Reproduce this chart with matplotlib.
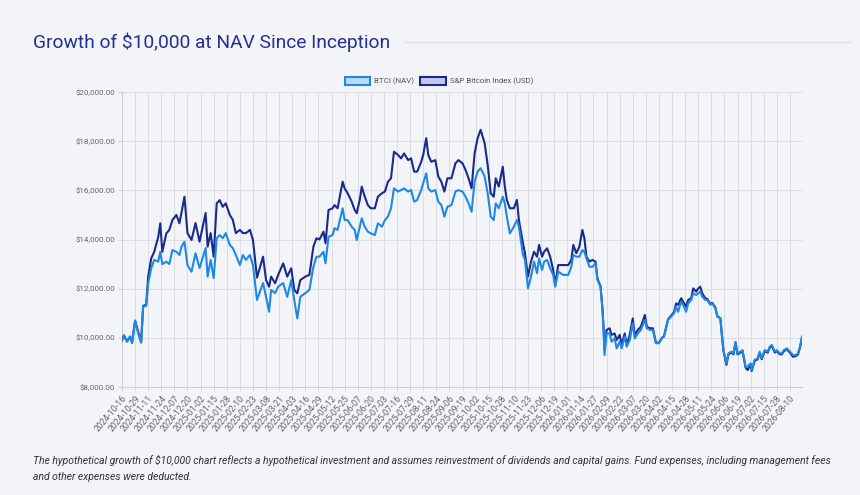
import matplotlib
matplotlib.use("Agg")
import matplotlib.pyplot as plt
from matplotlib.patches import Patch
import pandas as pd

plt.rcParams['font.family'] = ['Roboto', 'DejaVu Sans']

start_date = "2024-10-16"
tick_step = 13

# days since inception, BTCI NAV, S&P Bitcoin Index
days = [0, 2, 5, 8, 10, 13, 16, 19, 21, 24, 26, 29, 32, 36, 38, 40, 44, 47, 50, 54,
        57, 59, 62, 65, 69, 73, 77, 83, 85, 88, 91, 94, 97, 100, 103, 107, 110, 113, 117, 120,
        123, 127, 130, 134, 140, 143, 146, 148, 152, 155, 160, 164, 168, 171, 174, 177, 182, 186, 190, 193,
        196, 200, 202, 205, 209, 211, 214, 219, 221, 224, 228, 231, 233, 236, 238, 241, 244, 247, 251, 254,
        258, 261, 264, 267, 270, 274, 277, 280, 284, 287, 290, 293, 297, 299, 302, 304, 307, 311, 314, 317,
        320, 323, 327, 331, 334, 338, 341, 344, 347, 350, 353, 356, 360, 363, 366, 369, 371, 374, 378, 380,
        382, 385, 389, 392, 394, 398, 400, 403, 406, 409, 412, 414, 417, 419, 422, 425, 428, 430, 433, 438,
        443, 446, 448, 451, 454, 457, 459, 461, 464, 467, 470, 472, 475, 477, 478, 479, 481, 484, 486, 489,
        491, 494, 496, 499, 501, 504, 507, 509, 512, 515, 519, 521, 524, 527, 530, 533, 536, 538, 542, 545,
        548, 550, 552, 555, 557, 560, 562, 565, 567, 570, 572, 574, 576, 579, 581, 584, 586, 589, 591, 594,
        595, 597, 600, 602, 605, 607, 609, 611, 614, 616, 619, 621, 624, 625, 628, 631, 633, 635, 638, 641,
        643, 645, 648, 650, 653, 655, 657, 660, 663, 666, 669, 671, 673, 675]

btci_nav = [9900, 10100, 9850, 10050, 9800, 10700, 10200, 9800, 11270, 11300, 12220, 12830, 13170, 13100, 13500, 13000, 13100, 13000, 13570, 13500,
            13370, 13700, 13910, 12960, 12690, 13440, 12840, 13650, 12490, 13170, 12430, 14050, 14180, 14050, 14260, 13780, 13650, 13370, 12960, 13370,
            13170, 13370, 12960, 11540, 12230, 11670, 11060, 11950, 11820, 12080, 12230, 11670, 12350, 11540, 10790, 11670, 11820, 11950, 12890, 13300,
            13300, 13500, 13030, 14110, 14180, 14460, 14390, 15270, 14790, 14790, 14520, 14390, 13980, 14520, 14860, 14520, 14320, 14250, 14180, 14660,
            14520, 14790, 14930, 15270, 16080, 15950, 16010, 16080, 15950, 16010, 15540, 15610, 16010, 16290, 16690, 16080, 15950, 16010, 15540, 15400,
            14930, 15330, 15400, 15950, 16010, 15950, 15740, 15470, 15130, 16350, 16760, 16900, 16560, 15880, 14930, 14790, 15470, 15270, 15740, 15470,
            14930, 14250, 14520, 14790, 14520, 13370, 13170, 12010, 12490, 13100, 12630, 13230, 12760, 13100, 13170, 12830, 12560, 12080, 12690, 12560,
            12560, 12890, 13370, 13300, 13300, 13570, 13500, 13230, 12890, 12890, 13030, 12350, 12080, 11130, 10320, 9300, 10180, 10180, 9840, 9980,
            9570, 9840, 9570, 10050, 9640, 9910, 10590, 9980, 10180, 10320, 10730, 10390, 10320, 10320, 9780, 9780, 9980, 10050, 10730, 10860,
            11000, 11270, 11060, 11470, 11340, 11060, 11400, 11540, 11810, 11740, 11810, 11880, 11670, 11540, 11540, 11340, 11400, 11200, 10860, 10800,
            10320, 9500, 8960, 9370, 9440, 9370, 9840, 9370, 9440, 9500, 8830, 8830, 8960, 8690, 9100, 9170, 9440, 9170, 9500, 9440,
            9640, 9710, 9440, 9500, 9370, 9370, 9500, 9570, 9440, 9300, 9300, 9370, 9640, 10050]

sp_index = [9900, 10100, 9850, 10050, 9800, 10700, 10250, 9850, 11300, 11350, 12490, 13230, 13500, 14110, 14660, 13500, 14250, 14390, 14790, 15000,
            14660, 15080, 15740, 14260, 13980, 14670, 13910, 15080, 13710, 14260, 13300, 15470, 15600, 15330, 15470, 15000, 14800, 14260, 14390, 14260,
            14260, 14390, 13980, 12450, 13300, 12350, 12080, 12490, 12220, 12560, 13030, 12490, 12830, 11950, 11810, 12350, 12490, 12560, 13710, 14050,
            14000, 14320, 13850, 15200, 15270, 15400, 15270, 16350, 16080, 15880, 15540, 15200, 15070, 15610, 16150, 15740, 15400, 15270, 15270, 15740,
            15880, 15950, 16350, 16490, 17570, 17440, 17300, 17500, 17230, 17300, 16760, 16760, 17160, 17440, 18120, 17440, 17160, 17230, 16560, 16350,
            15950, 16490, 16490, 17100, 17230, 17100, 16830, 16490, 16080, 17500, 18120, 18460, 17910, 17030, 15880, 15740, 16490, 16150, 16960, 16150,
            15610, 15270, 15270, 15610, 14790, 13850, 13440, 12490, 13100, 13500, 13300, 13780, 13300, 13500, 13640, 13300, 12760, 12150, 12960, 12960,
            12960, 13170, 13780, 13440, 13710, 14390, 14050, 13300, 13100, 13170, 13100, 12400, 12100, 11150, 10400, 9500, 10320, 10390, 10120, 10180,
            9910, 10120, 9710, 10180, 9710, 10120, 10790, 10120, 10320, 10450, 10930, 10450, 10390, 10390, 9800, 9800, 10000, 10070, 10750, 10900,
            11050, 11400, 11340, 11610, 11470, 11270, 11540, 11610, 12010, 11880, 12010, 12080, 11810, 11610, 11580, 11380, 11420, 11230, 10880, 10800,
            10320, 9480, 8900, 9340, 9400, 9330, 9800, 9330, 9400, 9460, 8790, 8690, 8920, 8650, 9060, 9130, 9400, 9130, 9460, 9400,
            9600, 9670, 9400, 9460, 9330, 9330, 9460, 9530, 9400, 9230, 9260, 9330, 9600, 10000]

y_ticks = [8000, 10000, 12000, 14000, 16000, 18000, 20000]

nav_color = "#1e88e5"
index_color = "#1a2a8c"
bg = "#f3f4f7"

tick_days = list(range(0, 664, tick_step))
tick_labels = [d.strftime("%Y-%m-%d") for d in pd.date_range(start_date, periods=len(tick_days), freq=f"{tick_step}D")]

fig = plt.figure(figsize=(8.6, 4.95), dpi=100, facecolor=bg)
ax = fig.add_axes([122 / 860, 1 - 387 / 495, 680 / 860, 295 / 495])
ax.set_facecolor(bg)

ax.plot(days, sp_index, color=index_color, lw=1.5, label="S&P Bitcoin Index (USD)", zorder=3)
ax.plot(days, btci_nav, color=nav_color, lw=1.5, label="BTCI (NAV)", zorder=4)

ax.set_xlim(0, 675)
ax.set_ylim(8000, 20000)
ax.set_yticks(y_ticks)
ax.set_yticklabels([f"${v:,.2f}" for v in y_ticks], fontsize=5.8, color="#666666")
ax.set_xticks(tick_days)
ax.set_xticklabels(tick_labels, rotation=50, ha="right", rotation_mode="anchor", fontsize=6.3, color="#666666")
ax.tick_params(axis="both", length=3, color="#d5d5d5", pad=2)
ax.grid(True, color="#dcdde0", lw=0.7)
for s in ["top", "right"]:
    ax.spines[s].set_visible(False)
for s in ["left", "bottom"]:
    ax.spines[s].set_color("#cfcfcf")
    ax.spines[s].set_linewidth(0.8)

# legend boxes like chart.js
handles = [Patch(facecolor="#bcdaf6", edgecolor=nav_color, lw=1.5, label="BTCI (NAV)"),
           Patch(facecolor="#c4c8e6", edgecolor=index_color, lw=1.5, label="S&P Bitcoin Index (USD)")]
fig.legend(handles=handles, loc="center", bbox_to_anchor=(439 / 860, 1 - 81 / 495), ncol=2, frameon=False,
           fontsize=5.7, labelcolor="#555555", handlelength=3.2, handleheight=1.3, columnspacing=0.8, handletextpad=0.5)

fig.text(33 / 860, 1 - 42 / 495, "Growth of $10,000 at NAV Since Inception", fontsize=13.8, color="#22308f",
         va="center", ha="left")
fig.add_artist(plt.Line2D([405 / 860, 850 / 860], [1 - 42 / 495, 1 - 42 / 495], color="#e0e1e5", lw=1.0))

fig.text(33 / 860, 1 - 460 / 495, "The hypothetical growth of $10,000 chart reflects a hypothetical investment and assumes reinvestment of dividends and capital gains. Fund expenses, including management fees",
         fontsize=7.5, style="italic", color="#333333", va="center")
fig.text(33 / 860, 1 - 477 / 495, "and other expenses were deducted.", fontsize=7.5, style="italic", color="#333333", va="center")

fig.savefig("out.png", dpi=100, facecolor=bg)
